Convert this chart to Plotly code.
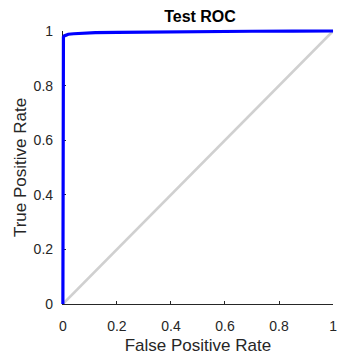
import plotly.graph_objects as go

# ROC operating points (false positive rate, true positive rate)
fpr = [0.0, 0.0, 0.002, 0.005, 0.01, 0.02, 0.04, 0.07, 0.12, 0.2, 0.35, 0.5, 0.7, 0.85, 1.0]
tpr = [0.0, 0.972, 0.978, 0.982, 0.985, 0.988, 0.990, 0.992, 0.994, 0.995, 0.997, 0.998, 0.999, 0.9995, 1.0]

# Chance diagonal
diag_x = [0.0, 1.0]
diag_y = [0.0, 1.0]

title_text = "Test ROC"
x_label = "False Positive Rate"
y_label = "True Positive Rate"
tick_vals = [0, 0.2, 0.4, 0.6, 0.8, 1]
tick_text = ["0", "0.2", "0.4", "0.6", "0.8", "1"]

ink = "#262626"
font_family = "Arial, Liberation Sans, Helvetica, sans-serif"

W, H = 340, 358
L, R, T, B = 55, 0, 24, 50
pw, ph = W - L - R, H - T - B

# pixel placement of the [0, 1] axes box inside the plotting region
x0_px, x1_px = 63, 337
y0_px, y1_px = 304, 31

x_dom = [(x0_px - L) / pw, (x1_px - L) / pw]
y_dom = [(H - B - y0_px) / ph, (H - B - y1_px) / ph]

# the curve lives on a slightly larger subplot so its stroke is not clipped at the box edges
sx = (x1_px - x0_px)
sy = (y0_px - y1_px)
x2_range = [-(x0_px - L) / sx, 1 + (W - R - x1_px) / sx]
y2_range = [-(H - B - y0_px) / sy, 1 + (y1_px - T) / sy]

fig = go.Figure()
fig.add_trace(go.Scatter(x=diag_x, y=diag_y, mode="lines", xaxis="x", yaxis="y",
                         line=dict(color="#d0d0d0", width=2.6), hoverinfo="skip"))
fig.add_trace(go.Scatter(x=fpr, y=tpr, mode="lines", xaxis="x2", yaxis="y2",
                         line=dict(color="#0000ff", width=3.2)))

axis_common = dict(
    range=[0, 1],
    tickvals=tick_vals, ticktext=tick_text,
    ticks="inside", ticklen=3, tickwidth=1, tickcolor=ink,
    showline=True, linecolor=ink, linewidth=1,
    showgrid=False, zeroline=False,
    ticklabeloverflow="allow",
    tickfont=dict(family=font_family, size=14, color=ink),
)
hidden = dict(visible=False, showgrid=False, zeroline=False, domain=[0, 1])

fig.update_layout(
    width=W, height=H,
    margin=dict(l=L, r=R, t=T, b=B),
    paper_bgcolor="white", plot_bgcolor="rgba(0,0,0,0)",
    showlegend=False,
    title=dict(text="<b>" + title_text + "</b>",
               x=(x0_px + x1_px) / 2 / W, xanchor="center",
               y=1 - 16 / H, yanchor="middle",
               font=dict(family=font_family, size=16, color="#000000")),
    xaxis=dict(domain=x_dom, anchor="y", ticklabelstandoff=9,
               title=dict(text=x_label, standoff=6,
                          font=dict(family=font_family, size=17, color=ink)),
               **axis_common),
    yaxis=dict(domain=y_dom, anchor="x", ticklabelstandoff=6,
               title=dict(text=y_label, standoff=2,
                          font=dict(family=font_family, size=17, color=ink)),
               **axis_common),
    xaxis2=dict(range=x2_range, anchor="y2", **hidden),
    yaxis2=dict(range=y2_range, anchor="x2", **hidden),
)

fig.write_html("out.html")
